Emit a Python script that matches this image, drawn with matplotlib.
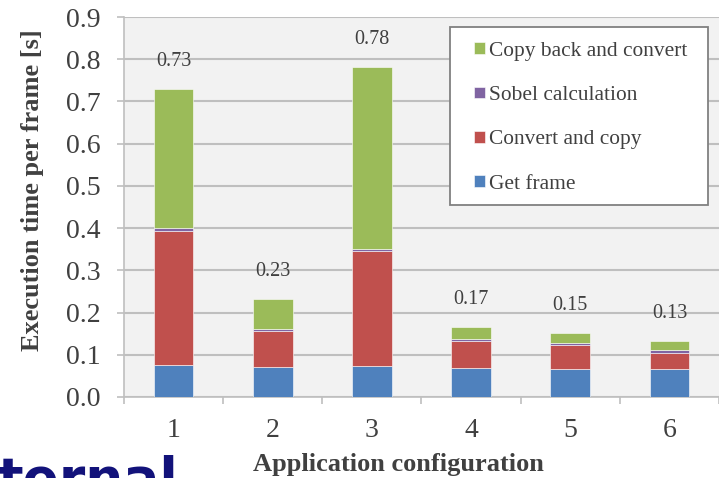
import matplotlib
matplotlib.use("Agg")
import matplotlib.pyplot as plt
from matplotlib.patches import Rectangle
import numpy as np

configs = ["1", "2", "3", "4", "5", "6"]
get_frame = [0.076, 0.072, 0.073, 0.068, 0.066, 0.067]
convert_copy = [0.318, 0.085, 0.272, 0.064, 0.056, 0.038]
sobel = [0.006, 0.003, 0.006, 0.005, 0.007, 0.006]
copy_back = [0.330, 0.073, 0.431, 0.029, 0.023, 0.022]

series = [
    ("Get frame", get_frame, "#4F81BD"),
    ("Convert and copy", convert_copy, "#C0504D"),
    ("Sobel calculation", sobel, "#8064A2"),
    ("Copy back and convert", copy_back, "#9BBB59"),
]

plt.rcParams["font.family"] = ["Liberation Serif", "DejaVu Serif"]
text_col = "#404040"
grid_col = "#BFBFBF"

W, H = 719, 478
fig = plt.figure(figsize=(W / 100, H / 100), dpi=100)
ax = fig.add_axes([124 / W, 1 - 397 / H, 1 - 124 / W, 380 / H])
ax.set_facecolor("#F2F2F2")

x = np.arange(len(configs))
bottom = np.zeros(len(configs))
handles = []
for name, vals, col in series:
    h = ax.bar(x, vals, 0.40, bottom=bottom, color=col, label=name,
               edgecolor="#FFFFFF", linewidth=0.4, zorder=3)
    handles.append(h)
    bottom += np.array(vals)

# totals above each bar
for xi, tot in zip(x, bottom):
    ax.annotate(f"{tot:.2f}", (xi, tot), xytext=(0, 19.5), textcoords="offset points",
                ha="center", va="center", fontsize=14.5, color=text_col)

ax.set_ylim(0, 0.9)
ax.set_yticks(np.arange(0, 0.91, 0.1))
ax.set_yticklabels([f"{v:.1f}" for v in np.arange(0, 0.91, 0.1)])
ax.set_xlim(-0.5, 5.5)
ax.set_xticks(x)
ax.set_xticklabels(configs)
ax.set_xticks(np.arange(-0.5, 5.6, 1), minor=True)

ax.yaxis.grid(True, color=grid_col, linewidth=1.5, zorder=0)
ax.set_axisbelow(True)
for s in ["top", "right"]:
    ax.spines[s].set_visible(False)
for s in ["left", "bottom"]:
    ax.spines[s].set_color(grid_col)
    ax.spines[s].set_linewidth(1.2)

ax.tick_params(axis="y", length=5, width=1.2, color=grid_col, pad=12,
               labelsize=20, labelcolor=text_col)
ax.tick_params(axis="x", which="major", length=0, pad=15,
               labelsize=20, labelcolor=text_col)
ax.tick_params(axis="x", which="minor", length=5, width=1.2, color=grid_col)

fig.text(398 / W, 1 - 465 / H, "Application configuration", ha="center", va="center",
         fontsize=19, fontweight="bold", color=text_col)
fig.text(33 / W, 1 - 190 / H, "Execution time per frame [s]", ha="center", va="center",
         rotation=90, fontsize=19, fontweight="bold", color=text_col)

# legend box drawn separately so the side padding can be wider than the top padding
box = Rectangle((450 / W, 1 - 205 / H), 258 / W, 178 / H, transform=fig.transFigure,
                facecolor="white", edgecolor="#808080", linewidth=1.3, zorder=4)
ax.add_patch(box)
leg = ax.legend(handles[::-1], [s[0] for s in series[::-1]],
                loc="upper left", bbox_to_anchor=(462 / W, 1 - 30 / H),
                bbox_transform=fig.transFigure, borderaxespad=0, frameon=False,
                fontsize=15.4, labelcolor=text_col, handlelength=0.52,
                handleheight=0.47, handletextpad=0.2, labelspacing=1.18,
                borderpad=0.56)
leg.set_zorder(5)

# slide heading underneath, cut off at the bottom edge
fig.text(-3 / W, -18 / H, "ternal", ha="left", va="baseline", fontsize=38.5,
         fontweight="bold", color="#12127A", family="DejaVu Sans")

fig.savefig("out.png", dpi=100)
